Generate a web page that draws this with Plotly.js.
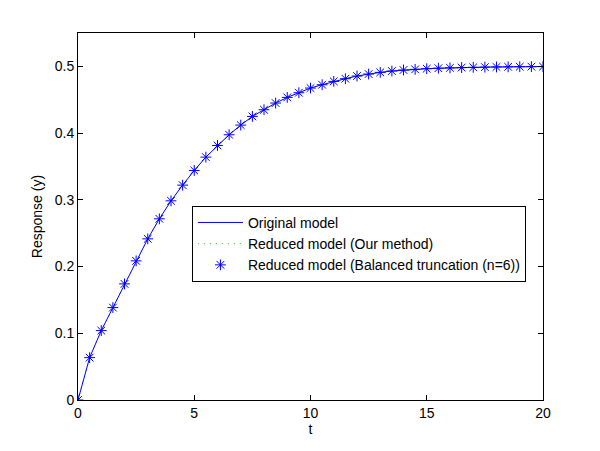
<!DOCTYPE html>
<html>
<head>
<meta charset="utf-8">
<script src="https://cdn.plot.ly/plotly-3.0.1.min.js"></script>
<style>
  body { margin: 0; background: #fff; }
  #chart { width: 600px; height: 451px; }
</style>
</head>
<body>
<div id="chart"></div>
<script>
// time samples and responses
const T = [0, 0.5, 1, 1.5, 2, 2.5, 3, 3.5, 4, 4.5, 5, 5.5, 6, 6.5, 7, 7.5, 8, 8.5, 9, 9.5,
    10, 10.5, 11, 11.5, 12, 12.5, 13, 13.5, 14, 14.5, 15, 15.5, 16, 16.5, 17, 17.5, 18, 18.5, 19, 19.5, 20];

const ORIGINAL = [0, 0.0635, 0.104, 0.1385, 0.174, 0.2085, 0.2415, 0.2715, 0.2985, 0.322,
    0.344, 0.364, 0.3815, 0.3975, 0.412, 0.425, 0.435, 0.445, 0.4535, 0.4605,
    0.4675, 0.4725, 0.4775, 0.4815, 0.4855, 0.4885, 0.491, 0.493, 0.4945, 0.4955,
    0.4965, 0.4972, 0.4978, 0.4982, 0.4986, 0.4989, 0.4991, 0.4993, 0.4995, 0.4996, 0.4997];

const OUR_METHOD = [0, 0.0635, 0.104, 0.1385, 0.174, 0.2085, 0.2415, 0.2715, 0.2985, 0.322,
    0.344, 0.364, 0.3815, 0.3975, 0.412, 0.425, 0.435, 0.445, 0.4535, 0.4605,
    0.4675, 0.4725, 0.4775, 0.4815, 0.4855, 0.4885, 0.491, 0.493, 0.4945, 0.4955,
    0.4965, 0.4972, 0.4978, 0.4982, 0.4986, 0.4989, 0.4991, 0.4993, 0.4995, 0.4996, 0.4997];

const BALANCED = [0, 0.0635, 0.104, 0.1385, 0.174, 0.2085, 0.2415, 0.2715, 0.2985, 0.322,
    0.344, 0.364, 0.3815, 0.3975, 0.412, 0.425, 0.435, 0.445, 0.4535, 0.4605,
    0.4675, 0.4725, 0.4775, 0.4815, 0.4855, 0.4885, 0.491, 0.493, 0.4945, 0.4955,
    0.4965, 0.4972, 0.4978, 0.4982, 0.4986, 0.4989, 0.4991, 0.4993, 0.4995, 0.4996, 0.4997];

const NAMES = ["Original model", "Reduced model (Our method)", "Reduced model (Balanced truncation (n=6))"];

const DIV = document.querySelector("#chart");
const FONT = { family: "Liberation Sans, Arial, sans-serif", size: 14, color: "#000" };

let original = {
    x: T, y: ORIGINAL, name: NAMES[0], legendrank: 1,
    type: "scatter", mode: "lines",
    line: { color: "rgb(0,0,255)", width: 1 }
};

// drawn first so the blue line stays on top, as in the picture
let ours = {
    x: T, y: OUR_METHOD, name: NAMES[1], legendrank: 2,
    type: "scatter", mode: "lines",
    line: { color: "rgb(60,180,60)", width: 1, dash: "1px,5px" }
};

let balanced = {
    x: T, y: BALANCED, name: NAMES[2], legendrank: 3,
    type: "scatter", mode: "markers",
    marker: { symbol: "asterisk-open", size: 9, color: "rgb(0,0,255)", line: { color: "rgb(0,0,255)", width: 1 } }
};

let axis = {
    showline: true, mirror: "ticks", linecolor: "#000", linewidth: 1,
    ticks: "inside", ticklen: 5, tickcolor: "#000",
    showgrid: false, zeroline: false, tickfont: FONT
};

let layout = {
    width: 600, height: 451,
    margin: { l: 78, r: 57, t: 33, b: 51 },
    paper_bgcolor: "#fff", plot_bgcolor: "#fff",
    font: FONT,
    xaxis: Object.assign({}, axis, {
        range: [0, 20], tickvals: [0, 5, 10, 15, 20],
        title: { text: "t", font: FONT, standoff: 2 }
    }),
    yaxis: Object.assign({}, axis, {
        range: [0, 0.55], tickvals: [0, 0.1, 0.2, 0.3, 0.4, 0.5],
        title: { text: "Response (y)", font: FONT, standoff: 8 }
    }),
    showlegend: true,
    legend: {
        x: 0.245, y: 0.529, xanchor: "left", yanchor: "top",
        bgcolor: "#fff", bordercolor: "#000", borderwidth: 1,
        font: FONT, itemwidth: 45, tracegroupgap: 0
    }
};

Plotly.newPlot(DIV, [ours, original, balanced], layout, { displayModeBar: false, staticPlot: true });
</script>
</body>
</html>
